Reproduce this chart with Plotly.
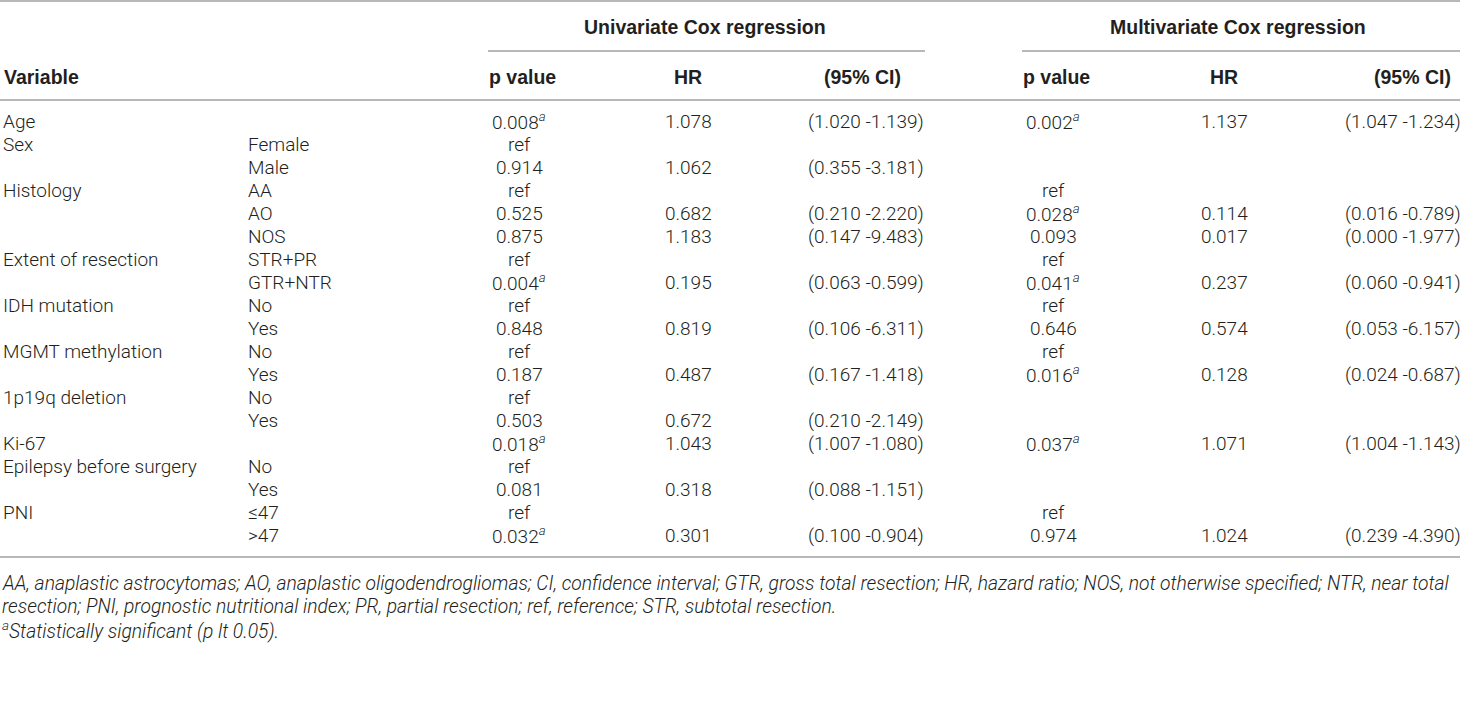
import plotly.graph_objects as go

# table content
variables = ["Age", "Sex", "", "Histology", "", "", "Extent of resection", "",
             "IDH mutation", "", "MGMT methylation", "", "1p19q deletion", "",
             "Ki-67", "Epilepsy before surgery", "", "PNI", ""]
levels = ["", "Female", "Male", "AA", "AO", "NOS", "STR+PR", "GTR+NTR", "No", "Yes",
          "No", "Yes", "No", "Yes", "", "No", "Yes", "≤47", ">47"]
uni_p = ["0.008a", "ref", "0.914", "ref", "0.525", "0.875", "ref", "0.004a", "ref", "0.848",
         "ref", "0.187", "ref", "0.503", "0.018a", "ref", "0.081", "ref", "0.032a"]
uni_hr = ["1.078", "", "1.062", "", "0.682", "1.183", "", "0.195", "", "0.819",
          "", "0.487", "", "0.672", "1.043", "", "0.318", "", "0.301"]
uni_ci = ["(1.020 -1.139)", "", "(0.355 -3.181)", "", "(0.210 -2.220)", "(0.147 -9.483)", "",
          "(0.063 -0.599)", "", "(0.106 -6.311)", "", "(0.167 -1.418)", "", "(0.210 -2.149)",
          "(1.007 -1.080)", "", "(0.088 -1.151)", "", "(0.100 -0.904)"]
multi_p = ["0.002a", "", "", "ref", "0.028a", "0.093", "ref", "0.041a", "ref", "0.646",
           "ref", "0.016a", "", "", "0.037a", "", "", "ref", "0.974"]
multi_hr = ["1.137", "", "", "", "0.114", "0.017", "", "0.237", "", "0.574",
            "", "0.128", "", "", "1.071", "", "", "", "1.024"]
multi_ci = ["(1.047 -1.234)", "", "", "", "(0.016 -0.789)", "(0.000 -1.977)", "",
            "(0.060 -0.941)", "", "(0.053 -6.157)", "", "(0.024 -0.687)", "", "",
            "(1.004 -1.143)", "", "", "", "(0.239 -4.390)"]

group_headers = ["Univariate Cox regression", "Multivariate Cox regression"]
col_headers = ["p value", "HR", "(95% CI)"]
footnotes = [
    "AA, anaplastic astrocytomas; AO, anaplastic oligodendrogliomas; CI, confidence interval; "
    "GTR, gross total resection; HR, hazard ratio; NOS, not otherwise specified; NTR, near total",
    "resection; PNI, prognostic nutritional index; PR, partial resection; ref, reference; "
    "STR, subtotal resection.",
    "<sup>a</sup>Statistically significant (p lt 0.05).",
]

W, H = 1460, 727
BODY = dict(family="Roboto", size=19, color="#231f20", weight=300)
BOLD = dict(family="Liberation Sans", size=19.5, color="#231f20", weight="bold")
FOOT = dict(family="Roboto", size=19.3, color="#231f20", weight=300, style="italic")
LINE = dict(color="#a0a0a0", width=1.5)


def fmt(v):
    # trailing "a" marks a significant value -> italic superscript
    if v.endswith("a"):
        return v[:-1] + "<sup><i>a</i></sup>"
    return v


fig = go.Figure()
ann = []


def add(x, y, text, font, anchor="center"):
    ann.append(dict(x=x, y=y, xref="x", yref="y", text=text, showarrow=False,
                    xanchor=anchor, yanchor="middle", font=font))


# header
add(705, 27, group_headers[0], BOLD)
add(1238, 27, group_headers[1], BOLD)
add(2, 77, "Variable", BOLD, "left")
for hx, h in zip([522, 688, 862], col_headers):
    add(hx, 77, h, BOLD)
for hx, h in zip([1056, 1224, 1412], col_headers):
    add(hx, 77, h, BOLD)

# body rows
y0, dy = 121, 23.05
cols = [(519, uni_p), (688, uni_hr), (866, uni_ci),
        (1053, multi_p), (1224, multi_hr), (1403, multi_ci)]
for i in range(len(variables)):
    y = y0 + i * dy
    if variables[i]:
        add(1, y, variables[i], BODY, "left")
    if levels[i]:
        add(246, y, levels[i], BODY, "left")
    for cx, vals in cols:
        if vals[i]:
            add(cx, y, fmt(vals[i]), BODY)

# footnotes
for j, t in enumerate(footnotes):
    add(0, 583 + j * 23.5, "<i>" + t + "</i>", FOOT, "left")

shapes = [
    dict(type="line", x0=0, x1=W, y0=1, y1=1, line=LINE),
    dict(type="line", x0=488, x1=925, y0=51, y1=51, line=LINE),
    dict(type="line", x0=1022, x1=W, y0=51, y1=51, line=LINE),
    dict(type="line", x0=0, x1=W, y0=100, y1=100, line=LINE),
    dict(type="line", x0=0, x1=W, y0=557, y1=557, line=LINE),
]

fig.update_layout(
    width=W, height=H,
    margin=dict(l=0, r=0, t=0, b=0),
    paper_bgcolor="white", plot_bgcolor="white",
    xaxis=dict(range=[0, W], visible=False, fixedrange=True),
    yaxis=dict(range=[H, 0], visible=False, fixedrange=True),
    annotations=ann, shapes=shapes, showlegend=False,
)
fig.write_html("out.html", config={"displayModeBar": False},
               post_script="document.body.style.margin='0';document.body.style.overflow='hidden';")
